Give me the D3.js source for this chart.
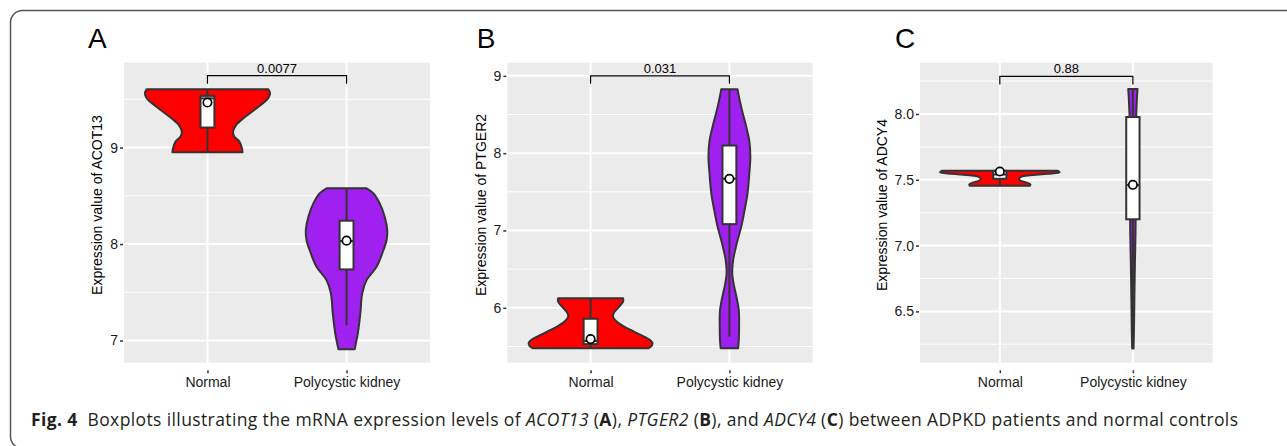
<!DOCTYPE html>
<html>
<head>
<meta charset="utf-8">
<script src="https://cdn.jsdelivr.net/npm/d3@7"></script>
<style>
body { margin: 0; background: #fff; }
svg { display: block; font-family: "Liberation Sans", Arial, sans-serif; }
</style>
</head>
<body>
<div id="fig"></div>
<script>
const W = 1287, H = 446;

const groups = ["Normal", "Polycystic kidney"];
const genes = ["ACOT13", "PTGER2", "ADCY4"];
const tags = ["A", "B", "C"];
const pValues = ["0.0077", "0.031", "0.88"];

// y axis domains and ticks
const yDomA = [6.77, 9.88], majorA = [7, 8, 9], minorA = [7.5, 8.5, 9.5];
const yDomB = [5.29, 9.17], majorB = [6, 7, 8, 9], minorB = [5.5, 6.5, 7.5, 8.5];
const yDomC = [6.11, 8.39], majorC = [6.5, 7.0, 7.5, 8.0], minorC = [6.25, 6.75, 7.25, 7.75, 8.25];

// violin outlines, [expression, relative half width]
const violinA = [
  [[9.606, 0.97], [9.564, 1.0], [9.512, 0.97], [9.426, 0.82], [9.322, 0.61], [9.235, 0.46],
   [9.166, 0.41], [9.114, 0.43], [9.062, 0.51], [8.993, 0.55], [8.952, 0.56]],
  [[8.578, 0.32], [8.526, 0.43], [8.422, 0.53], [8.284, 0.61], [8.145, 0.65], [8.042, 0.64],
   [7.903, 0.57], [7.765, 0.48], [7.626, 0.32], [7.488, 0.25], [7.28, 0.22], [7.073, 0.18], [6.91, 0.13]]
];
const violinB = [
  [[6.125, 0.52], [6.08, 0.52], [6.0, 0.44], [5.93, 0.37], [5.88, 0.36], [5.82, 0.42], [5.76, 0.53],
   [5.71, 0.65], [5.65, 0.8], [5.6, 0.92], [5.55, 0.99], [5.51, 0.98], [5.478, 0.93]],
  [[8.828, 0.13], [8.7, 0.16], [8.56, 0.2], [8.34, 0.27], [8.15, 0.32], [7.95, 0.335], [7.75, 0.32],
   [7.48, 0.29], [7.25, 0.24], [7.05, 0.19], [6.84, 0.12], [6.62, 0.06], [6.45, 0.045], [6.3, 0.07],
   [6.19, 0.1], [5.97, 0.15], [5.76, 0.155], [5.58, 0.15], [5.478, 0.14]]
];
const violinC = [
  [[7.568, 0.97], [7.558, 1.0], [7.546, 0.8], [7.535, 0.5], [7.524, 0.36], [7.51, 0.32],
   [7.495, 0.34], [7.48, 0.44], [7.466, 0.51], [7.454, 0.5]],
  [[8.19, 0.078], [8.11, 0.067], [7.98, 0.056], [7.6, 0.05], [7.3, 0.047], [7.09, 0.044],
   [6.84, 0.033], [6.59, 0.025], [6.33, 0.017], [6.218, 0.011]]
];

// box stats: [q1, median, q3, lower whisker, upper whisker, mean]
const boxA = [[9.208, 9.51, 9.536, 8.952, 9.606, 9.467], [7.737, 8.03, 8.242, 7.159, 8.578, 8.035]];
const boxB = [[5.53, 5.57, 5.858, 5.478, 6.125, 5.595], [7.082, 7.67, 8.099, 5.628, 8.828, 7.668]];
const boxC = [[7.508, 7.54, 7.568, 7.454, 7.568, 7.563], [7.2, 7.46, 7.977, 6.218, 8.19, 7.462]];

// height of the comparison bracket, in expression units
const bracketY = [9.745, 9.0, 8.286];

const fills = ["#FF0000", "#A020F0"];
const INK = "#333333";

const panels = [
  { left: 124, right: 430, tagX: 88, dom: yDomA, major: majorA, minor: minorA, violins: violinA, boxes: boxA, fmt: d3.format("d") },
  { left: 507.3, right: 812.7, tagX: 476.7, dom: yDomB, major: majorB, minor: minorB, violins: violinB, boxes: boxB, fmt: d3.format("d") },
  { left: 920, right: 1212.7, tagX: 895, dom: yDomC, major: majorC, minor: minorC, violins: violinC, boxes: boxC, fmt: d3.format(".1f") }
];
const TOP = 62.7, BOTTOM = 362.7;

const svg = d3.select("#fig").append("svg")
  .attr("width", W)
  .attr("height", H);

// figure frame
svg.append("rect")
  .attr("x", 10.5).attr("y", 10.5)
  .attr("width", 1320).attr("height", 438)
  .attr("rx", 12)
  .attr("fill", "none")
  .attr("stroke", "#555")
  .attr("stroke-width", 1.5);

panels.forEach((p, i) => {
  const g = svg.append("g");
  const x = d3.scalePoint().domain(groups).range([p.left, p.right]).padding(0.6);
  const y = d3.scaleLinear().domain(p.dom).range([BOTTOM, TOP]);
  const step = x.step();

  // panel background + grid
  g.append("rect")
    .attr("x", p.left).attr("y", TOP)
    .attr("width", p.right - p.left).attr("height", BOTTOM - TOP)
    .attr("fill", "#EBEBEB");

  g.selectAll(".minor").data(p.minor).enter().append("line")
    .attr("x1", p.left).attr("x2", p.right)
    .attr("y1", d => y(d)).attr("y2", d => y(d))
    .attr("stroke", "#fff").attr("stroke-width", 1);

  g.selectAll(".major").data(p.major).enter().append("line")
    .attr("x1", p.left).attr("x2", p.right)
    .attr("y1", d => y(d)).attr("y2", d => y(d))
    .attr("stroke", "#fff").attr("stroke-width", 2);

  g.selectAll(".vgrid").data(groups).enter().append("line")
    .attr("x1", d => x(d)).attr("x2", d => x(d))
    .attr("y1", TOP).attr("y2", BOTTOM)
    .attr("stroke", "#fff").attr("stroke-width", 2);

  // violins
  const halfW = d3.scaleLinear().domain([0, 1]).range([0, 0.45 * step]);
  groups.forEach((grp, j) => {
    const cx = x(grp);
    const area = d3.area()
      .y(d => y(d[0]))
      .x0(d => cx - halfW(d[1]))
      .x1(d => cx + halfW(d[1]))
      .curve(d3.curveCatmullRom);
    g.append("path")
      .datum(p.violins[j])
      .attr("d", area)
      .attr("fill", fills[j])
      .attr("stroke", INK)
      .attr("stroke-width", 2)
      .attr("stroke-linejoin", "round");
  });

  // boxes
  const bw = 0.1 * step;
  groups.forEach((grp, j) => {
    const cx = x(grp);
    const [q1, med, q3, lo, hi, mean] = p.boxes[j];
    g.append("line")
      .attr("x1", cx).attr("x2", cx)
      .attr("y1", y(hi)).attr("y2", y(lo))
      .attr("stroke", INK).attr("stroke-width", 2);
    g.append("rect")
      .attr("x", cx - bw / 2).attr("y", y(q3))
      .attr("width", bw).attr("height", y(q1) - y(q3))
      .attr("fill", "#fff")
      .attr("stroke", INK).attr("stroke-width", 2);
    g.append("line")
      .attr("x1", cx - bw / 2).attr("x2", cx + bw / 2)
      .attr("y1", y(med)).attr("y2", y(med))
      .attr("stroke", INK).attr("stroke-width", 2);
    g.append("circle")
      .attr("cx", cx).attr("cy", y(mean))
      .attr("r", 4.2)
      .attr("fill", "#fff")
      .attr("stroke", "#000").attr("stroke-width", 1.7);
  });

  // comparison bracket
  const by = y(bracketY[i]);
  const x1 = x(groups[0]), x2 = x(groups[1]);
  g.append("path")
    .attr("d", `M${x1},${by + 8}V${by}H${x2}V${by + 8}`)
    .attr("fill", "none")
    .attr("stroke", "#000")
    .attr("stroke-width", 1.2);
  g.append("text")
    .attr("x", (x1 + x2) / 2).attr("y", by - 3)
    .attr("text-anchor", "middle")
    .attr("font-size", 13)
    .attr("fill", "#000")
    .text(pValues[i]);

  // axes
  const xAxis = g.append("g")
    .attr("transform", `translate(0,${BOTTOM + 7.5})`)
    .call(d3.axisBottom(x).tickSize(3).tickPadding(4));
  const yAxis = g.append("g")
    .attr("transform", `translate(${p.left - 1},0)`)
    .call(d3.axisLeft(y).tickValues(p.major).tickFormat(p.fmt).tickSize(3).tickPadding(2));
  [xAxis, yAxis].forEach(a => {
    a.select(".domain").remove();
    a.selectAll(".tick line").attr("stroke", INK).attr("stroke-width", 1.5);
    a.selectAll(".tick text")
      .attr("fill", "#1a1a1a")
      .attr("font-size", 14)
      .attr("font-family", "'Liberation Sans', Arial, sans-serif");
  });

  let maxW = 0;
  yAxis.selectAll(".tick text").each(function () {
    maxW = Math.max(maxW, this.getComputedTextLength());
  });
  const titleX = p.left - 6 - maxW - 8;
  g.append("text")
    .attr("transform", `translate(${titleX},205) rotate(-90)`)
    .attr("text-anchor", "middle")
    .attr("font-size", 14)
    .attr("fill", "#000")
    .text("Expression value of " + genes[i]);

  // panel tag
  g.append("text")
    .attr("x", p.tagX).attr("y", 47.7)
    .attr("font-size", 28)
    .attr("fill", "#000")
    .text(tags[i]);
});

// caption
const cap = svg.append("text")
  .attr("x", 31).attr("y", 425.7)
  .attr("font-family", "'Open Sans', Lato, sans-serif")
  .attr("font-size", 17.5)
  .attr("fill", "#231F20")
  .attr("textLength", 1207)
  .attr("lengthAdjust", "spacing")
  .attr("xml:space", "preserve");
const capParts = [
  ["Fig. 4", "bold", "normal"],
  ["  Boxplots illustrating the mRNA expression levels of ", "normal", "normal"],
  ["ACOT13", "normal", "italic"], [" (", "normal", "normal"], ["A", "bold", "normal"], ["), ", "normal", "normal"],
  ["PTGER2", "normal", "italic"], [" (", "normal", "normal"], ["B", "bold", "normal"], ["), and ", "normal", "normal"],
  ["ADCY4", "normal", "italic"], [" (", "normal", "normal"], ["C", "bold", "normal"],
  [") between ADPKD patients and normal controls", "normal", "normal"]
];
cap.selectAll("tspan").data(capParts).enter().append("tspan")
  .attr("font-weight", d => d[1])
  .attr("font-style", d => d[2])
  .text(d => d[0]);
</script>
</body>
</html>
